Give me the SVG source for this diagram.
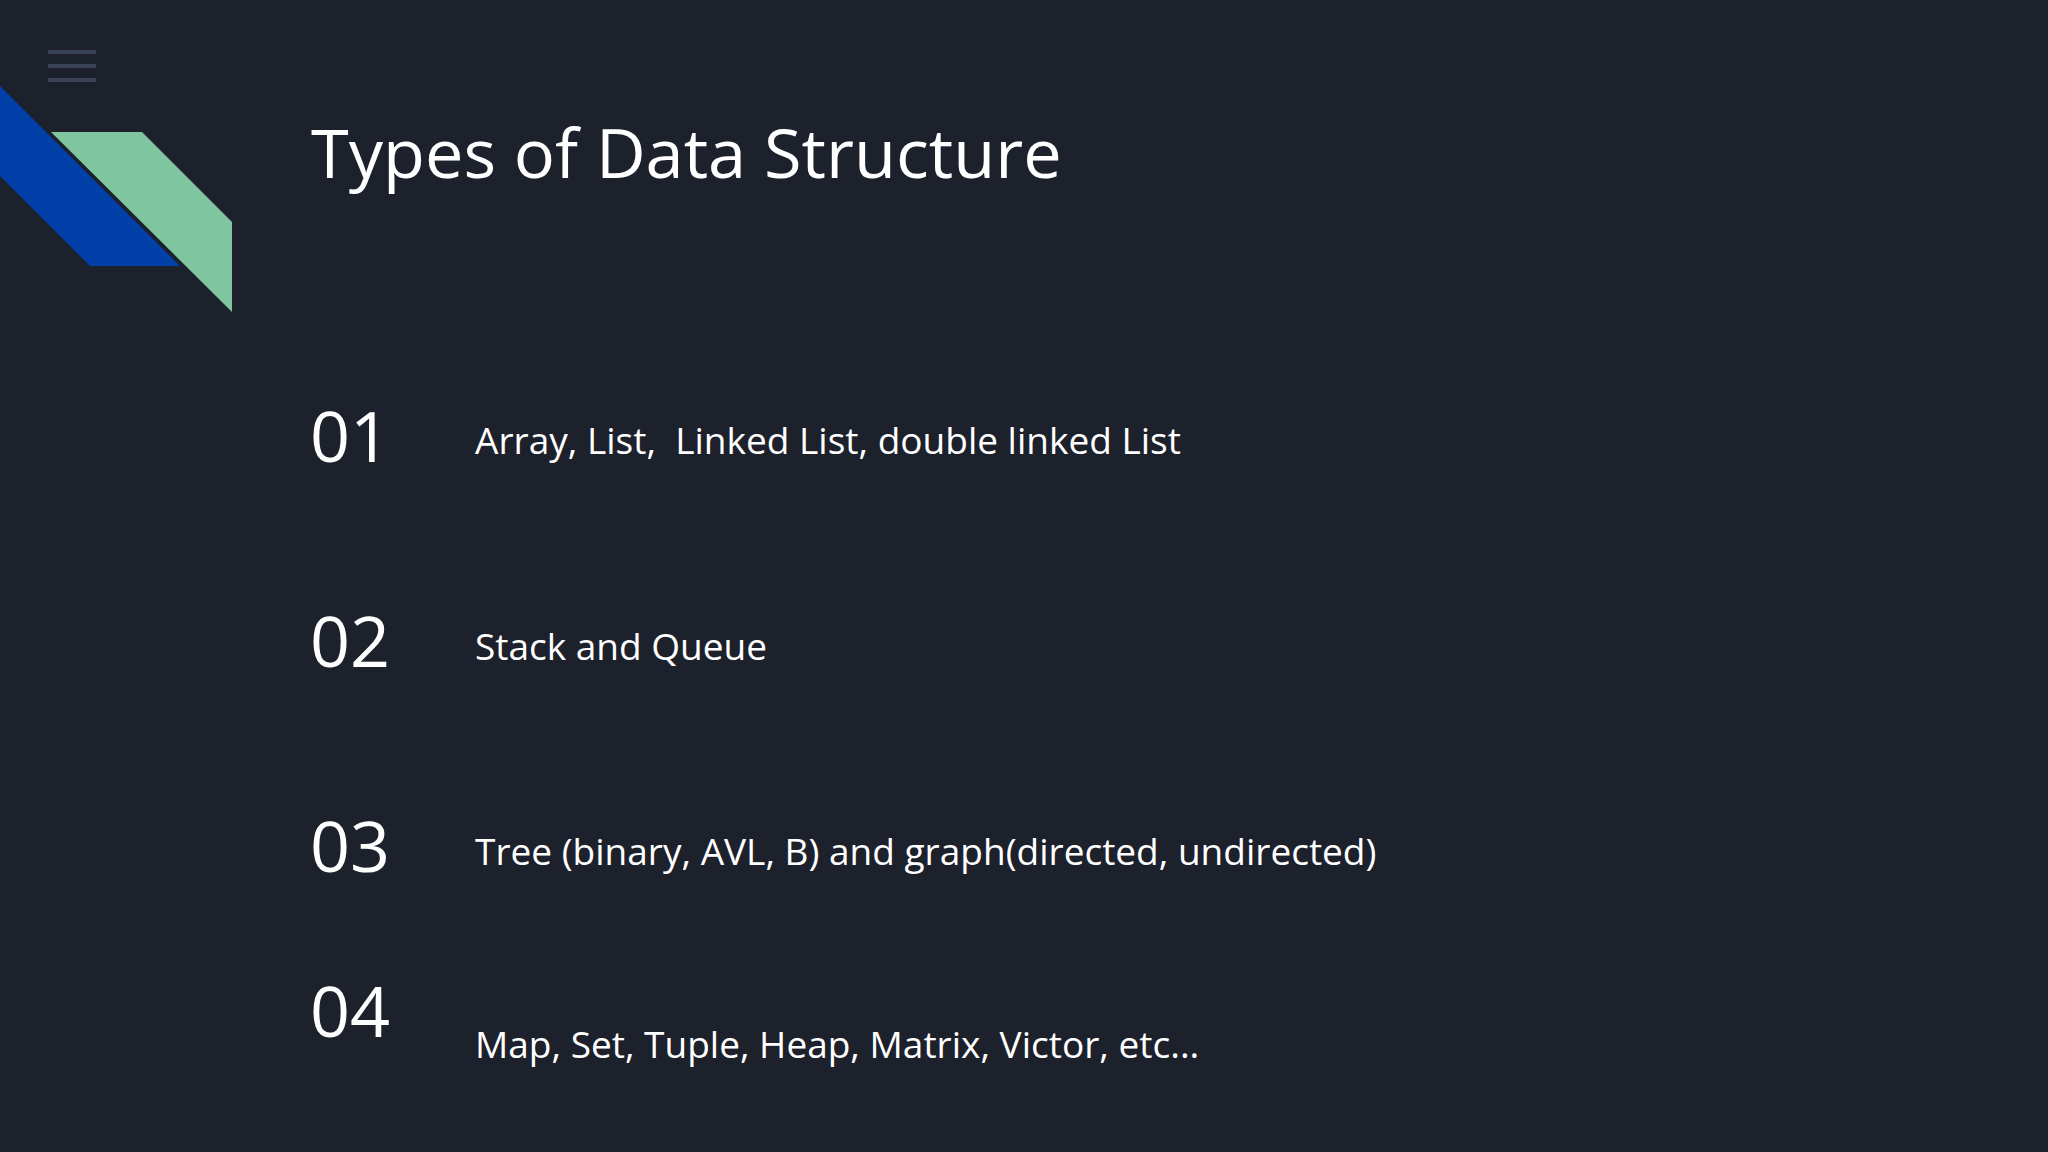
<svg xmlns="http://www.w3.org/2000/svg" width="2048" height="1152" viewBox="0 0 2048 1152">
<style>
.t{font-family:"Open Sans","Noto Sans",sans-serif;fill:#ffffff;white-space:pre}
.n{font-size:70px}
.i{font-size:37px}
.h{stroke:#3a4256;stroke-width:4}
</style>
<rect width="2048" height="1152" fill="#1d212c"/>
<g id="menu"><line class="h" x1="48" y1="52" x2="96" y2="52"/><line class="h" x1="48" y1="66" x2="96" y2="66"/><line class="h" x1="48" y1="80" x2="96" y2="80"/></g>
<g id="deco">
<polygon points="0,86 180,266 90,266 0,176" fill="#0040a8"/>
<polygon points="51,132 142,132 232,222 232,312" fill="#7fc6a0"/>
</g>
<g id="title"><text class="t" x="311" y="178" font-size="68.5">Types of Data Structure</text></g>
<g id="item1"><text class="t n" x="310" y="462">01</text><text class="t i" x="475" y="454" xml:space="preserve">Array, List,  Linked List, double linked List</text></g>
<g id="item2"><text class="t n" x="310" y="667">02</text><text class="t i" x="475" y="660">Stack and Queue</text></g>
<g id="item3"><text class="t n" x="310" y="872">03</text><text class="t i" x="475" y="865">Tree (binary, AVL, B) and graph(directed, undirected)</text></g>
<g id="item4"><text class="t n" x="310" y="1037">04</text><text class="t i" x="475" y="1058">Map, Set, Tuple, Heap, Matrix, Victor, etc...</text></g>
<g id="connectors"/>
</svg>
